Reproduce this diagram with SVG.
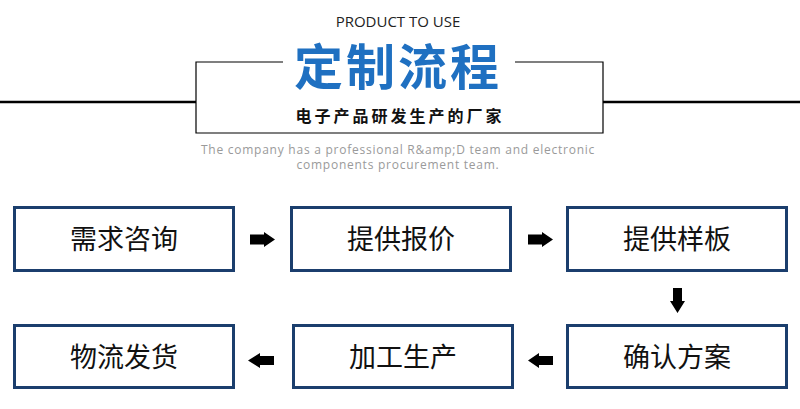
<svg xmlns="http://www.w3.org/2000/svg" width="800" height="409" viewBox="0 0 800 409">
<style>
.box{fill:#fff;stroke:#1b3e6d;stroke-width:3}
.lbl{font-family:"Noto Sans CJK SC","Noto Sans",sans-serif;font-size:27px;fill:#111;text-anchor:middle}
.arr{fill:#000}
.en{font-family:"Open Sans","Noto Sans",sans-serif;font-size:12px;fill:#9a9a9a;text-anchor:middle;letter-spacing:0.75px}
</style>
<rect width="800" height="409" fill="#fff"/>
<g id="header">
<line x1="0" y1="102" x2="196" y2="102" stroke="#000" stroke-width="2.5"/>
<line x1="603" y1="102" x2="800" y2="102" stroke="#000" stroke-width="2.5"/>
<path d="M283,62 H196 V133 H603 V62 H515" fill="none" stroke="#000" stroke-width="1.2"/>
<text x="398" y="27" font-family="'Open Sans','Noto Sans',sans-serif" font-size="15" fill="#222" text-anchor="middle">PRODUCT TO USE</text>
<text x="398" y="85" font-family="'Noto Sans CJK SC',sans-serif" font-weight="bold" font-size="49" fill="#1f70c1" text-anchor="middle" letter-spacing="3">定制流程</text>
<text x="400" y="122" font-family="'Noto Sans CJK SC',sans-serif" font-weight="bold" font-size="16" fill="#111" text-anchor="middle" letter-spacing="3">电子产品研发生产的厂家</text>
<text class="en" x="398" y="154">The company has a professional R&amp;amp;D team and electronic</text>
<text class="en" x="398" y="169">components procurement team.</text>
</g>
<g id="n1"><rect class="box" x="14.5" y="207.5" width="219" height="63"/><text class="lbl" x="124" y="249">需求咨询</text></g>
<g id="n2"><rect class="box" x="291.5" y="207.5" width="219" height="63"/><text class="lbl" x="401" y="249">提供报价</text></g>
<g id="n3"><rect class="box" x="567.5" y="207.5" width="219" height="63"/><text class="lbl" x="677" y="249">提供样板</text></g>
<g id="n4"><rect class="box" x="567.5" y="325.5" width="219" height="62"/><text class="lbl" x="677" y="367">确认方案</text></g>
<g id="n5"><rect class="box" x="293.5" y="325.5" width="219" height="62"/><text class="lbl" x="403" y="367">加工生产</text></g>
<g id="n6"><rect class="box" x="14.5" y="325.5" width="219" height="62"/><text class="lbl" x="124" y="367">物流发货</text></g>
<g id="connectors">
<polygon class="arr" points="250,234.5 264,234.5 264,232 275,239.5 264,247 264,244.5 250,244.5"/>
<polygon class="arr" points="528,234.5 542,234.5 542,232 553,239.5 542,247 542,244.5 528,244.5"/>
<polygon class="arr" points="673,288 682,288 682,301 685,301 677.5,313 670,301 673,301"/>
<polygon class="arr" points="553,356 539,356 539,353 528,360.5 539,368 539,365 553,365"/>
<polygon class="arr" points="274,356 260,356 260,353 248,360.5 260,368 260,365 274,365"/>
</g>
</svg>
